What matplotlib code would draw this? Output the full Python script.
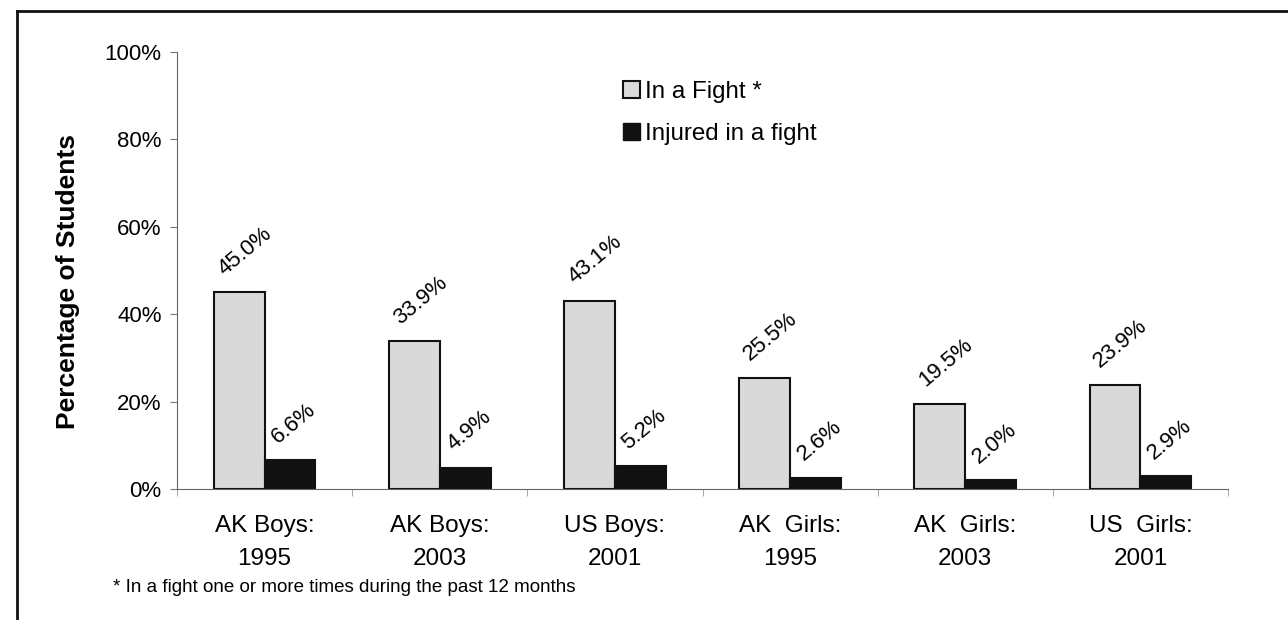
import matplotlib
matplotlib.use("Agg")
import matplotlib.pyplot as plt
import numpy as np
from matplotlib.lines import Line2D
from matplotlib.patches import Patch

categories = ["AK Boys:\n1995", "AK Boys:\n2003", "US Boys:\n2001",
              "AK  Girls:\n1995", "AK  Girls:\n2003", "US  Girls:\n2001"]
in_fight = [45.0, 33.9, 43.1, 25.5, 19.5, 23.9]
injured = [6.6, 4.9, 5.2, 2.6, 2.0, 2.9]

plt.rcParams["font.family"] = ["Liberation Sans", "DejaVu Sans"]

fig = plt.figure(figsize=(12.88, 6.2), dpi=100)
ax = fig.add_axes([177 / 1288, 1 - 489 / 620, (1228 - 177) / 1288, (489 - 52) / 620])

x = np.arange(len(categories))
w = 0.29
ax.bar(x - w / 2, in_fight, w, color="#d9d9d9", edgecolor="#111111", linewidth=1.5)
ax.bar(x + w / 2, injured, w, color="#111111", edgecolor="#111111", linewidth=1.5)

for xi, v in zip(x, in_fight):
    ax.annotate(f"{v:.1f}%", (xi - w, v), xytext=(10, 9), textcoords="offset points",
                rotation=40, fontsize=16, ha="left", va="bottom", rotation_mode="anchor")
for xi, v in zip(x, injured):
    ax.annotate(f"{v:.1f}%", (xi, v), xytext=(12, 9), textcoords="offset points",
                rotation=40, fontsize=16, ha="left", va="bottom", rotation_mode="anchor")

ax.set_xlim(-0.5, len(categories) - 0.5)
ax.set_ylim(0, 100)
ax.set_yticks([0, 20, 40, 60, 80, 100])
ax.set_yticklabels(["0%", "20%", "40%", "60%", "80%", "100%"], fontsize=16)
ax.set_xticks(x)
ax.set_xticklabels(categories, fontsize=17.5, linespacing=1.6)
ax.tick_params(axis="x", length=0, pad=19)
ax.tick_params(axis="y", length=5, color="#777777", pad=6)
ax.set_xticks(np.arange(-0.5, len(categories), 1), minor=True)
ax.tick_params(axis="x", which="minor", length=5, color="#999999")
for s in ["top", "right"]:
    ax.spines[s].set_visible(False)
ax.spines["left"].set_color("#666666")
ax.spines["bottom"].set_color("#666666")
ax.set_ylabel("Percentage of Students", fontsize=19, fontweight="bold")
ax.yaxis.set_label_coords(-0.092, 0.474)

handles = [Patch(facecolor="#d9d9d9", edgecolor="#111111", linewidth=1.5),
           Patch(facecolor="#111111", edgecolor="#111111")]
ax.legend(handles, ["In a Fight *", "Injured in a fight"], loc="upper left",
          bbox_to_anchor=(0.404, 0.984), frameon=False, fontsize=17.4,
          handlelength=0.7, handleheight=0.7, handletextpad=0.2, labelspacing=0.82)

fig.text(113 / 1288, 1 - 588 / 620, "* In a fight one or more times during the past 12 months",
         fontsize=13.5, va="center")

# frame around the chart
fig.add_artist(Line2D([17 / 1288, 17 / 1288], [0, 1 - 11 / 620], color="#111111", lw=2))
fig.add_artist(Line2D([17 / 1288, 1], [1 - 11 / 620, 1 - 11 / 620], color="#111111", lw=2))

fig.savefig("out.png", dpi=100)
